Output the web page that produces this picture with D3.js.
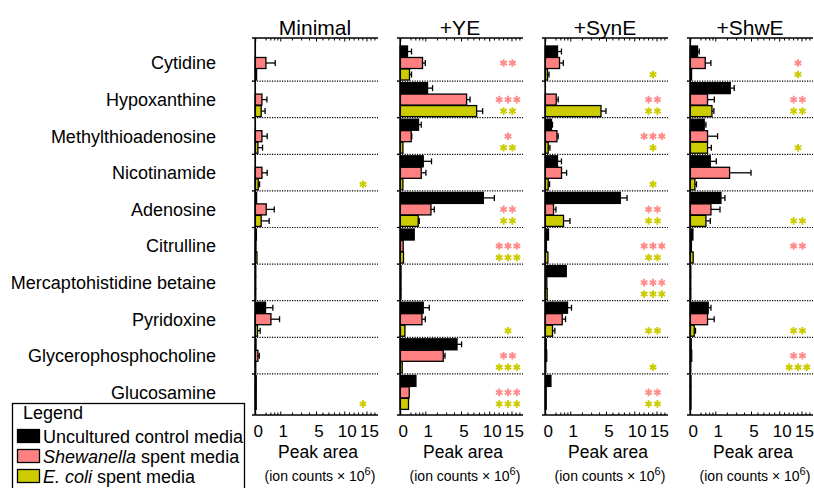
<!DOCTYPE html>
<html>
<head>
<meta charset="utf-8">
<script src="https://cdn.jsdelivr.net/npm/d3@7"></script>
<style>
  body { margin: 0; background: #fff; }
  svg { font-family: "Liberation Sans", Arial, Helvetica, sans-serif; }
</style>
</head>
<body>
<svg id="chart" width="814" height="488"></svg>
<script>
const categories = ['Cytidine', 'Hypoxanthine', 'Methylthioadenosine', 'Nicotinamide', 'Adenosine',
  'Citrulline', 'Mercaptohistidine betaine', 'Pyridoxine', 'Glycerophosphocholine', 'Glucosamine'];
const panels = ['Minimal', '+YE', '+SynE', '+ShwE'];
const tickLabels = [0, 1, 5, 10, 15];
const minorTicks = [0.2, 0.4, 0.6, 0.8, 2, 3, 4, 6, 7, 8, 9, 11, 12, 13, 14, 16, 17];

// peak area (ion counts x 10^6), one row per panel
const control = [
  [0, 0, 0, 0, 0.005, 0.004, 0.001, 0.199, 0.002, 0.003],
  [0.106, 1.169, 0.565, 0.856, 8.83, 0.347, 0.002, 0.856, 4.416, 0.428],
  [0.274, 0, 0.081, 0.274, 7.34, 0.025, 0.726, 0.809, 0.003, 0.068],
  [0.106, 2.34, 0.347, 0.664, 1.447, 0.0174, 0.001, 0.548, 0.003, 0.002]
];
const controlErr = [
  [0, 0, 0, 0, 0, 0, 0, 0.33, 0, 0],
  [0.13, 0.42, 0.16, 0.64, 2.24, 0, 0, 0.45, 0.67, 0],
  [0.18, 0, 0.025, 0.18, 1.24, 0, 0, 0.28, 0, 0],
  [0.05, 0.44, 0.08, 0.41, 0.36, 0, 0, 0.16, 0, 0]
];
const shewanella = [
  [0.213, 0.091, 0.091, 0.091, 0.224, 0.002, 0.001, 0.428, 0.0174, 0.003],
  [0.809, 5.868, 0.224, 0.726, 1.447, 0.021, 0.002, 0.77, 2.671, 0.156],
  [0.361, 0.224, 0.251, 0.458, 0.134, 0.004, 0.007, 0.494, 0.006, 0.003],
  [0.394, 0.51, 0.51, 2.27, 0.707, 0.004, 0.001, 0.51, 0.006, 0.002]
];
const shewanellaErr = [
  [0.45, 0.16, 0.17, 0.17, 0.38, 0, 0, 0.52, 0.02, 0],
  [0.19, 0.56, 0.02, 0.32, 0.3, 0, 0, 0.23, 0.2, 0],
  [0.19, 0.08, 0.05, 0.29, 0.08, 0, 0, 0.19, 0, 0],
  [0.31, 0.42, 0.66, 2.73, 0.66, 0, 0, 0.41, 0, 0]
];
const ecoli = [
  [0.005, 0.074, 0.0174, 0.021, 0.074, 0.008, 0.001, 0.013, 0.001, 0.003],
  [0.165, 7.575, 0.0174, 0.0174, 0.548, 0.025, 0.002, 0.048, 0.0101, 0.134],
  [0.013, 4.275, 0.021, 0.021, 0.565, 0.0174, 0.01, 0.106, 0.001, 0.003],
  [0.005, 0.77, 0.51, 0.048, 0.428, 0.021, 0.001, 0.036, 0.001, 0.002]
];
const ecoliErr = [
  [0, 0.11, 0.09, 0.02, 0.27, 0, 0, 0.04, 0, 0],
  [0.07, 1.12, 0, 0, 0.06, 0, 0, 0, 0, 0],
  [0.02, 0.72, 0.027, 0.02, 0.41, 0, 0, 0.07, 0, 0],
  [0, 0.13, 0.22, 0.033, 0.24, 0, 0, 0.023, 0, 0]
];
// significance stars (count of *) vs control
const shewanellaStars = [
  [0, 0, 0, 0, 0, 0, 0, 0, 0, 0],
  [2, 3, 1, 0, 2, 3, 0, 0, 2, 3],
  [0, 2, 3, 0, 2, 3, 3, 0, 0, 2],
  [1, 2, 0, 0, 0, 2, 0, 0, 2, 0]
];
const ecoliStars = [
  [0, 0, 0, 1, 0, 0, 0, 0, 0, 1],
  [0, 2, 2, 0, 2, 3, 0, 1, 3, 3],
  [1, 2, 1, 1, 2, 2, 3, 2, 1, 2],
  [1, 2, 1, 0, 2, 0, 0, 2, 3, 0]
];

const seriesNames = ['Uncultured control media', 'Shewanella spent media', 'E. coli spent media'];
const colors = ['#000000', '#ff8080', '#cccc00'];
const starColors = ['#ff8a8a', '#cccc00'];

const svg = d3.select('#chart');

const rowY = d3.scaleBand().domain(d3.range(categories.length)).range([44.5, 410.5]);
const barY = d3.scaleBand().domain([0, 1, 2]).range([1.5, 35.5]).paddingInner(0.04);

// category labels
svg.selectAll('.cat')
  .data(categories)
  .join('text')
  .attr('class', 'cat')
  .attr('x', 216)
  .attr('y', (d, i) => rowY(i) + rowY.bandwidth() / 2 + 6.5)
  .attr('text-anchor', 'end')
  .style('font-size', '18px')
  .text(d => d);

const values = [control, shewanella, ecoli];
const errors = [controlErr, shewanellaErr, ecoliErr];
const stars = [shewanellaStars, ecoliStars];

panels.forEach((name, p) => {
  const g = svg.append('g').attr('transform', `translate(${252 + 145 * p},0)`);
  const x = d3.scalePow().exponent(0.55).domain([0, 17]).range([3.2, 122.4]);

  g.append('text')
    .attr('x', 63).attr('y', 35)
    .attr('text-anchor', 'middle')
    .style('font-size', '21px')
    .text(name);

  // dotted separators between rows
  g.selectAll('.sep')
    .data(d3.range(1, categories.length))
    .join('line')
    .attr('class', 'sep')
    .attr('x1', 0).attr('x2', 126)
    .attr('y1', d => rowY(d)).attr('y2', d => rowY(d))
    .attr('stroke', '#000')
    .attr('stroke-width', 1.2)
    .attr('stroke-dasharray', '1.2,1.3');

  values.forEach((series, s) => {
    const rows = categories.map((c, i) => ({ i, v: series[p][i], e: errors[s][p][i] }));
    g.selectAll('.bar' + s)
      .data(rows)
      .join('rect')
      .attr('class', 'bar' + s)
      .attr('x', x(0))
      .attr('y', d => rowY(d.i) + barY(s))
      .attr('width', d => x(d.v) - x(0))
      .attr('height', barY.bandwidth())
      .attr('fill', colors[s])
      .attr('stroke', '#000')
      .attr('stroke-width', 1.3);

    const withErr = rows.filter(d => d.e > 0);
    const cy = d => rowY(d.i) + barY(s) + barY.bandwidth() / 2;
    g.selectAll('.err' + s)
      .data(withErr)
      .join('line')
      .attr('class', 'err' + s)
      .attr('x1', d => x(d.v)).attr('x2', d => x(d.v + d.e))
      .attr('y1', cy).attr('y2', cy)
      .attr('stroke', '#000').attr('stroke-width', 1.3);
    g.selectAll('.cap' + s)
      .data(withErr)
      .join('line')
      .attr('class', 'cap' + s)
      .attr('x1', d => x(d.v + d.e)).attr('x2', d => x(d.v + d.e))
      .attr('y1', d => cy(d) - 3).attr('y2', d => cy(d) + 3)
      .attr('stroke', '#000').attr('stroke-width', 1.3);
  });

  // significance asterisks
  const star = d3.symbol(d3.symbolAsterisk, 40)();
  stars.forEach((counts, k) => {
    const pts = [];
    counts[p].forEach((n, i) => {
      for (let j = 0; j < n; j++) {
        pts.push({ cx: 111 + (j - (n - 1) / 2) * 8.8, cy: rowY(i) + barY(k + 1) + barY.bandwidth() / 2 });
      }
    });
    g.selectAll('.star' + k)
      .data(pts)
      .join('path')
      .attr('class', 'star' + k)
      .attr('d', star)
      .attr('transform', d => `translate(${d.cx},${d.cy})`)
      .attr('fill', 'none')
      .attr('stroke', starColors[k])
      .attr('stroke-width', 1.9);
  });

  // zero line and small ticks at separators
  g.append('line')
    .attr('x1', x(0)).attr('x2', x(0))
    .attr('y1', 38).attr('y2', 415)
    .attr('stroke', '#000').attr('stroke-width', 1.7);
  g.selectAll('.ytick')
    .data(d3.range(1, categories.length))
    .join('line')
    .attr('class', 'ytick')
    .attr('x1', x(0) - 3).attr('x2', x(0))
    .attr('y1', d => rowY(d)).attr('y2', d => rowY(d))
    .attr('stroke', '#000').attr('stroke-width', 1.2);

  // top and bottom axis lines
  [38, 415].forEach(yy => {
    g.append('line')
      .attr('x1', 0).attr('x2', 126)
      .attr('y1', yy).attr('y2', yy)
      .attr('stroke', '#000').attr('stroke-width', 1.6);
  });
  g.append('g')
    .attr('transform', 'translate(0,38)')
    .call(d3.axisTop(x).tickValues(minorTicks).tickSize(-2.5).tickFormat(''))
    .call(a => a.select('.domain').remove());
  g.append('g')
    .attr('transform', 'translate(0,38)')
    .call(d3.axisTop(x).tickValues(tickLabels).tickSize(-3.5).tickFormat(''))
    .call(a => a.select('.domain').remove());

  g.append('g')
    .attr('transform', 'translate(0,415)')
    .call(d3.axisBottom(x).tickValues(minorTicks).tickSize(-2.5).tickFormat(''))
    .call(a => a.select('.domain').remove());
  g.append('g')
    .attr('transform', 'translate(0,415)')
    .call(d3.axisBottom(x).tickValues(tickLabels).tickSize(-3.5).tickPadding(10))
    .call(a => a.select('.domain').remove())
    .call(a => a.selectAll('text')
      .attr('fill', '#000')
      .attr('dx', 2.5)
      .style('font-size', '17px')
      .style('font-family', '"Liberation Sans", Arial, Helvetica, sans-serif'));
  g.selectAll('.tick line').attr('stroke', '#000').attr('stroke-width', 1);

  g.append('text')
    .attr('x', 66).attr('y', 458)
    .attr('text-anchor', 'middle')
    .style('font-size', '17.5px')
    .text('Peak area');
  const sub = g.append('text')
    .attr('x', 68).attr('y', 481)
    .attr('text-anchor', 'middle')
    .style('font-size', '14px');
  sub.append('tspan').text('(ion counts \u00d7 10');
  sub.append('tspan').attr('dy', -6).style('font-size', '11px').text('6');
  sub.append('tspan').attr('dy', 6).text(')');
});

// legend
const lg = svg.append('g');
lg.append('rect')
  .attr('x', 12.5).attr('y', 403.5)
  .attr('width', 232).attr('height', 100)
  .attr('fill', 'none').attr('stroke', '#000').attr('stroke-width', 1.3);
lg.append('text')
  .attr('x', 23).attr('y', 419)
  .style('font-size', '18px')
  .text('Legend');
seriesNames.forEach((n, s) => {
  lg.append('rect')
    .attr('x', 17.5).attr('y', 429.5 + 20 * s)
    .attr('width', 22).attr('height', 13)
    .attr('fill', colors[s]).attr('stroke', '#000').attr('stroke-width', 1.3);
  const t = lg.append('text')
    .attr('x', 43).attr('y', 443 + 20 * s)
    .style('font-size', '18px');
  if (s === 0) {
    t.text(n);
  } else {
    const italic = s === 1 ? 'Shewanella' : 'E. coli';
    t.append('tspan').style('font-style', 'italic').text(italic);
    t.append('tspan').text(n.slice(italic.length));
  }
});
</script>
</body>
</html>
